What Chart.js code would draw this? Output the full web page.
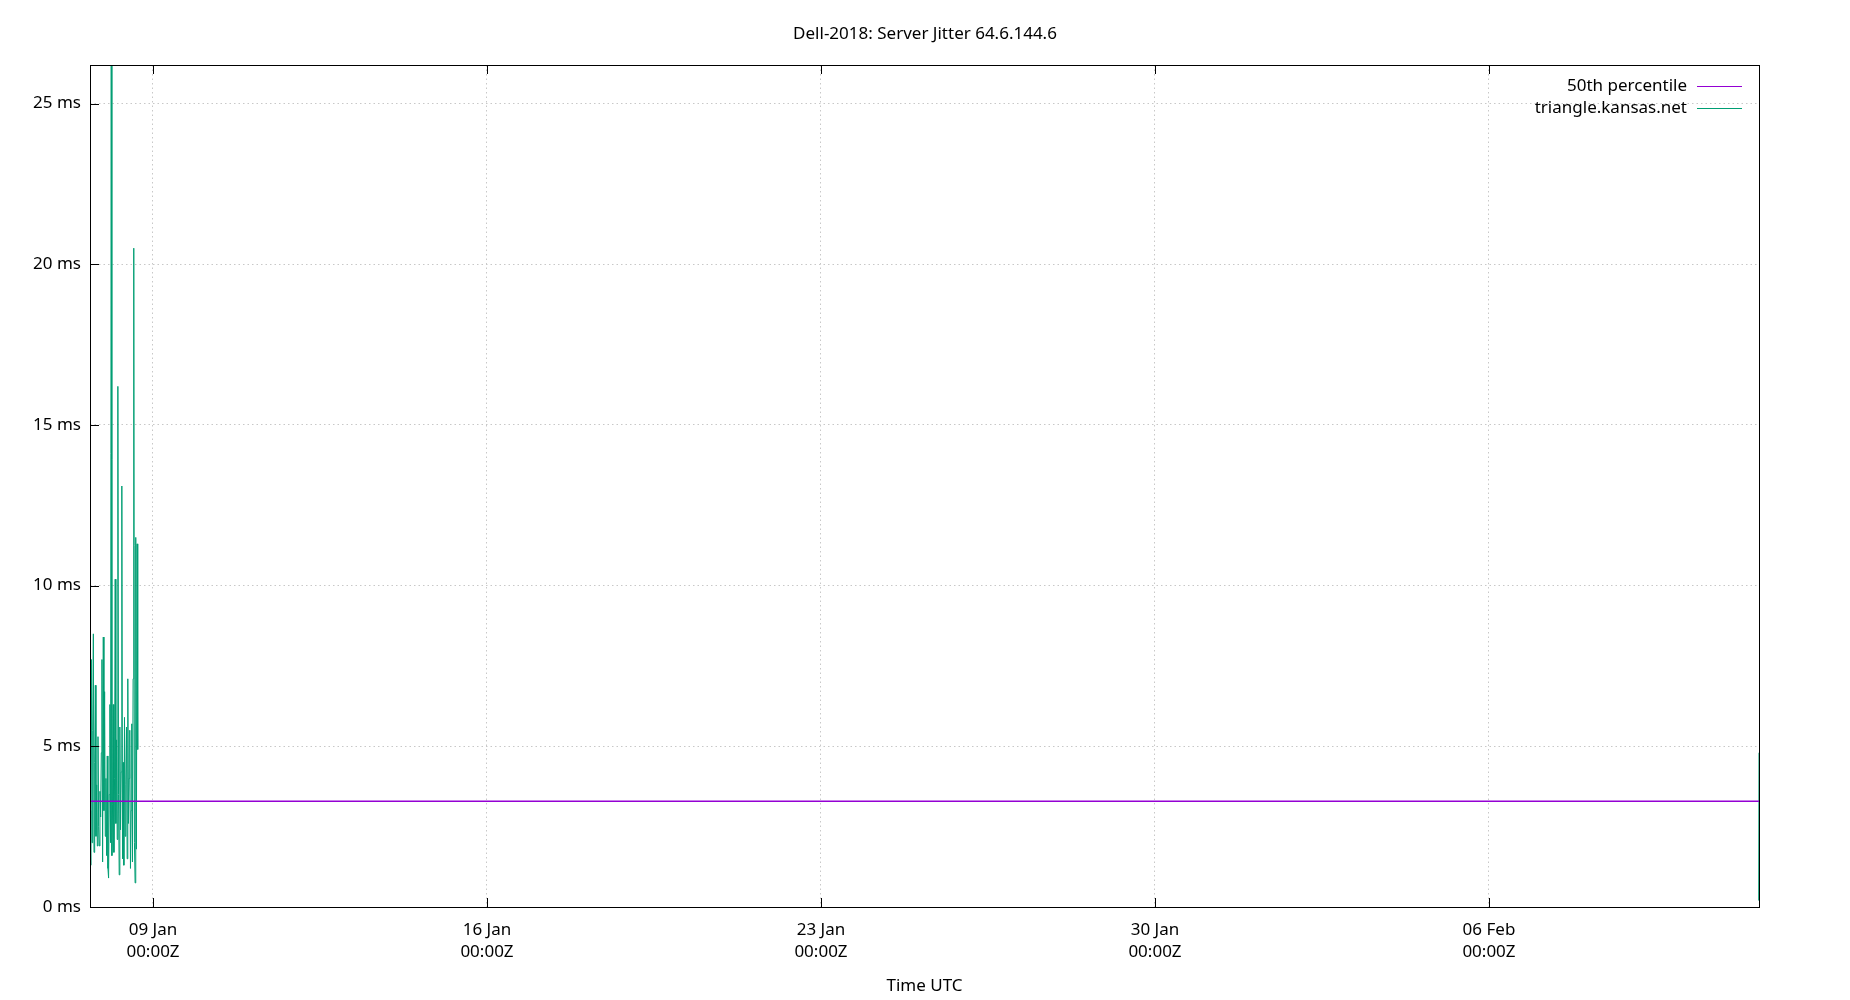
<!DOCTYPE html>
<html>
<head>
<meta charset="utf-8">
<title>Dell-2018: Server Jitter 64.6.144.6</title>
<script src="https://cdn.jsdelivr.net/npm/chart.js@4/dist/chart.umd.min.js"></script>
<style>
  html, body { margin: 0; padding: 0; background: #fff; }
  #wrap { width: 1850px; height: 1000px; position: relative; }
</style>
</head>
<body>
<div id="wrap"><canvas id="jitterChart"></canvas></div>
<script>
// sample times (UTC) and jitter values for triangle.kansas.net, in ms
const jitterTimes = [
  "2018-01-07T16:20Z", "2018-01-07T16:40Z", "2018-01-07T17:00Z", "2018-01-07T17:20Z", "2018-01-07T17:40Z",
  "2018-01-07T18:00Z", "2018-01-07T18:20Z", "2018-01-07T18:40Z", "2018-01-07T19:00Z", "2018-01-07T19:20Z",
  "2018-01-07T19:40Z", "2018-01-07T20:00Z", "2018-01-07T20:20Z", "2018-01-07T20:40Z", "2018-01-07T21:00Z",
  "2018-01-07T21:20Z", "2018-01-07T21:40Z", "2018-01-07T22:00Z", "2018-01-07T22:20Z", "2018-01-07T22:40Z",
  "2018-01-07T23:00Z", "2018-01-07T23:20Z", "2018-01-07T23:40Z", "2018-01-08T00:00Z", "2018-01-08T00:20Z",
  "2018-01-08T00:40Z", "2018-01-08T01:00Z", "2018-01-08T01:20Z", "2018-01-08T01:40Z", "2018-01-08T02:00Z",
  "2018-01-08T02:20Z", "2018-01-08T02:40Z", "2018-01-08T03:00Z", "2018-01-08T03:20Z", "2018-01-08T03:40Z",
  "2018-01-08T04:00Z", "2018-01-08T04:20Z", "2018-01-08T04:40Z", "2018-01-08T05:00Z", "2018-01-08T05:20Z",
  "2018-01-08T05:40Z", "2018-01-08T06:00Z", "2018-01-08T06:20Z", "2018-01-08T06:40Z", "2018-01-08T07:00Z",
  "2018-01-08T07:20Z", "2018-01-08T07:40Z", "2018-01-08T08:00Z", "2018-01-08T08:20Z", "2018-01-08T08:40Z",
  "2018-01-08T09:00Z", "2018-01-08T09:20Z", "2018-01-08T09:40Z", "2018-01-08T10:00Z", "2018-01-08T10:20Z",
  "2018-01-08T10:40Z", "2018-01-08T11:00Z", "2018-01-08T11:20Z", "2018-01-08T11:40Z", "2018-01-08T12:00Z",
  "2018-01-08T12:20Z", "2018-01-08T12:40Z", "2018-01-08T13:00Z", "2018-01-08T13:20Z", "2018-01-08T13:40Z",
  "2018-01-08T14:00Z", "2018-01-08T14:20Z", "2018-01-08T14:40Z", "2018-01-08T15:00Z", "2018-01-08T15:20Z",
  "2018-01-08T15:40Z", "2018-01-08T16:00Z", "2018-01-08T16:20Z",
  // gap, then the last two samples at the right edge
  "2018-01-09T00:00Z",
  "2018-02-11T15:40Z", "2018-02-11T15:49Z"
];
const jitterMs = [
  3.0, 1.3, 7.7, 2.0, 5.5,
  8.5, 1.7, 4.5, 6.9, 2.2,
  3.8, 1.9, 5.3, 2.5, 1.9,
  3.6, 2.8, 4.8, 7.7, 1.4,
  8.4, 3.0, 6.7, 2.2, 4.0,
  1.6, 4.7, 1.2, 0.9, 3.5,
  6.3, 2.0, 27.5, 1.6, 3.2,
  6.3, 1.7, 4.0, 10.2, 2.6,
  5.2, 2.1, 16.2, 3.5, 1.0,
  5.6, 2.4, 4.2, 13.1, 1.5,
  4.5, 1.3, 5.9, 2.2, 3.8,
  5.6, 1.5, 7.1, 2.6, 4.0,
  5.5, 1.2, 3.0, 5.7, 1.4,
  7.1, 20.5, 2.0, 0.75, 11.5,
  1.8, 11.3, 4.9,
  null,
  0.2, 4.8
];

// 50th percentile across the whole range
const medianTimes = ["2018-01-07T16:19Z", "2018-02-11T15:49Z"];
const medianMs = [3.29, 3.29];

// axis range and ticks
const xRange = ["2018-01-07T16:19Z", "2018-02-11T15:49Z"];
const xTickDates = ["2018-01-09T00:00Z", "2018-01-16T00:00Z", "2018-01-23T00:00Z", "2018-01-30T00:00Z", "2018-02-06T00:00Z"];
const yTicks = [0, 5, 10, 15, 20, 25];
const yMax = 26.2;

const seriesNames = ["50th percentile", "triangle.kansas.net"];
const seriesColors = ["#9400d3", "#009e73"];

const MONTHS = ["Jan", "Feb", "Mar", "Apr", "May", "Jun", "Jul", "Aug", "Sep", "Oct", "Nov", "Dec"];
const FONT = "'Noto Sans', 'Open Sans', sans-serif";

const toPoints = (times, vals) => times.map((t, i) => ({ x: Date.parse(t), y: vals[i] }));

// gnuplot-like frame, inward tick marks and legend inside the plot
const frameAndKey = {
  id: "frameAndKey",
  afterDraw(chart) {
    const { ctx, chartArea: a, scales } = chart;
    ctx.save();
    ctx.strokeStyle = "#000";
    ctx.lineWidth = 1;
    ctx.setLineDash([]);
    ctx.strokeRect(a.left + 0.5, a.top + 0.5, a.right - a.left, a.bottom - a.top);

    const tl = 9;
    ctx.beginPath();
    scales.x.ticks.forEach(t => {
      const px = Math.round(scales.x.getPixelForValue(t.value)) + 0.5;
      ctx.moveTo(px, a.bottom); ctx.lineTo(px, a.bottom - tl);
      ctx.moveTo(px, a.top); ctx.lineTo(px, a.top + tl);
    });
    scales.y.ticks.forEach(t => {
      const py = Math.round(scales.y.getPixelForValue(t.value)) + 0.5;
      ctx.moveTo(a.left, py); ctx.lineTo(a.left + tl, py);
    });
    ctx.stroke();

    // key: right aligned text, line sample on the right
    ctx.font = "17px " + FONT;
    ctx.textAlign = "right";
    ctx.textBaseline = "middle";
    const textRight = a.right - 72;
    const sampleX0 = a.right - 62, sampleX1 = a.right - 17;
    seriesNames.forEach((name, i) => {
      const cy = a.top + 21 + i * 22;
      ctx.fillStyle = "#000";
      ctx.fillText(name, textRight, cy);
      ctx.strokeStyle = seriesColors[i];
      ctx.lineWidth = 1.2;
      ctx.beginPath();
      ctx.moveTo(sampleX0, cy + 0.5);
      ctx.lineTo(sampleX1, cy + 0.5);
      ctx.stroke();
    });
    ctx.restore();
  }
};

document.addEventListener("DOMContentLoaded", function () {
  const ctx = document.getElementById("jitterChart").getContext("2d");
  new Chart(ctx, {
    type: "line",
    data: {
      datasets: [
        {
          label: seriesNames[0],
          data: toPoints(medianTimes, medianMs),
          borderColor: seriesColors[0],
          borderWidth: 1.5,
          pointRadius: 0,
          tension: 0
        },
        {
          label: seriesNames[1],
          data: toPoints(jitterTimes, jitterMs),
          borderColor: seriesColors[1],
          borderWidth: 1,
          pointRadius: 0,
          tension: 0,
          spanGaps: false
        }
      ]
    },
    options: {
      responsive: true,
      maintainAspectRatio: false,
      animation: false,
      devicePixelRatio: 1,
      layout: { padding: 0 },
      plugins: {
        legend: { display: false },
        tooltip: { enabled: false },
        title: {
          display: true,
          text: "Dell-2018: Server Jitter 64.6.144.6",
          color: "#000",
          font: { family: FONT, size: 17, weight: "normal", lineHeight: 1.2 },
          padding: { top: 24, bottom: 20.6 }
        }
      },
      scales: {
        x: {
          type: "linear",
          min: Date.parse(xRange[0]),
          max: Date.parse(xRange[1]),
          afterBuildTicks: s => { s.ticks = xTickDates.map(d => ({ value: Date.parse(d) })); },
          afterFit: s => { s.height = 93; },
          grid: { color: "#c8c8c8", lineWidth: 1, drawTicks: false },
          border: { display: false, dash: [1.5, 3] },
          ticks: {
            color: "#000",
            padding: 12,
            maxRotation: 0,
            autoSkip: false,
            font: { family: FONT, size: 17, lineHeight: 1.3 },
            callback: v => {
              const d = new Date(v);
              const dd = String(d.getUTCDate()).padStart(2, "0");
              return [dd + " " + MONTHS[d.getUTCMonth()], "00:00Z"];
            }
          },
          title: {
            display: true,
            text: "Time UTC",
            color: "#000",
            font: { family: FONT, size: 17, lineHeight: 1.3 },
            padding: { top: 0, bottom: 3 }
          }
        },
        y: {
          min: 0,
          max: yMax,
          afterBuildTicks: s => { s.ticks = yTicks.map(v => ({ value: v })); },
          afterFit: s => { s.width = 90; },
          grid: { color: "#c8c8c8", lineWidth: 1, drawTicks: false },
          border: { display: false, dash: [1.5, 3] },
          ticks: {
            color: "#000",
            padding: 9,
            font: { family: FONT, size: 17 },
            callback: v => v + " ms"
          }
        },
        // empty right margin, keeps the title centred on the page
        yRight: {
          position: "right",
          min: 0,
          max: 1,
          afterFit: s => { s.width = 91; },
          grid: { display: false, drawOnChartArea: false },
          border: { display: false },
          ticks: { display: false }
        }
      }
    },
    plugins: [frameAndKey]
  });
});
</script>
</body>
</html>
